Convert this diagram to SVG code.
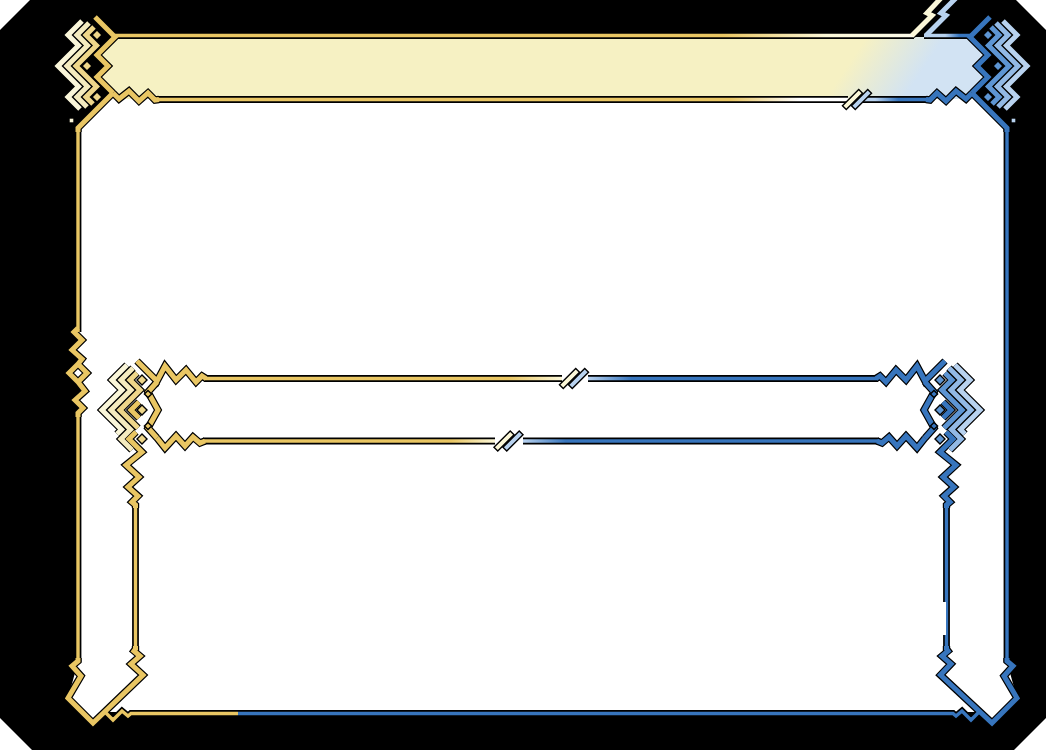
<svg xmlns="http://www.w3.org/2000/svg" width="1046" height="750" viewBox="0 0 1046 750">
<style>
.ko{fill:none;stroke:#000;stroke-width:7.4;stroke-linejoin:miter;stroke-miterlimit:8}
.kl{fill:none;stroke:#000;stroke-width:6.8;stroke-linejoin:miter;stroke-miterlimit:8}
.co{fill:none;stroke-width:5;stroke-linejoin:miter;stroke-miterlimit:8}
.cl{fill:none;stroke-width:3.4;stroke-linejoin:miter;stroke-miterlimit:8}
.g1{stroke:#E9C663}.g2{stroke:#EED68A}.g3{stroke:#F4EBBF}.g4{stroke:#FAF6D9}
.b1{stroke:#3775BD}.b2{stroke:#5D95D3}.b3{stroke:#92B9E5}.b4{stroke:#B8D2EF}
.py{stroke:#FBF7D8}.pb{stroke:#B8D2EF}
.dm{stroke:#000;stroke-width:1.4}
.fg1{fill:#E9C663}.fg2{fill:#EED68A}.fg4{fill:#FAF6D9}
.fb1{fill:#3775BD}.fb2{fill:#5D95D3}.fb4{fill:#B8D2EF}
.fy{fill:#FBF7D8}.fpb{fill:#B8D2EF}
</style>
<defs>
<linearGradient id="gTL" gradientUnits="userSpaceOnUse" x1="115" y1="0" x2="914" y2="0"><stop offset="0" stop-color="#E9C663"/><stop offset="0.76" stop-color="#E9C663"/><stop offset="0.89" stop-color="#FBF7D8"/><stop offset="1" stop-color="#FDFBEA"/></linearGradient>
<linearGradient id="gTR" gradientUnits="userSpaceOnUse" x1="924" y1="0" x2="971" y2="0"><stop offset="0" stop-color="#B8D2EF"/><stop offset="0.45" stop-color="#B8D2EF"/><stop offset="0.75" stop-color="#3775BD"/></linearGradient>
<linearGradient id="gBL" gradientUnits="userSpaceOnUse" x1="157" y1="0" x2="848" y2="0"><stop offset="0" stop-color="#E9C663"/><stop offset="0.83" stop-color="#E9C663"/><stop offset="0.93" stop-color="#FFFFFF"/><stop offset="1" stop-color="#FFFFFF"/></linearGradient>
<linearGradient id="gBR" gradientUnits="userSpaceOnUse" x1="862" y1="0" x2="928" y2="0"><stop offset="0" stop-color="#B8D2EF"/><stop offset="0.2" stop-color="#B8D2EF"/><stop offset="0.55" stop-color="#3775BD"/></linearGradient>
<linearGradient id="gITL" gradientUnits="userSpaceOnUse" x1="204" y1="0" x2="562" y2="0"><stop offset="0" stop-color="#E9C663"/><stop offset="0.85" stop-color="#E9C663"/><stop offset="1" stop-color="#FBF7D8"/></linearGradient>
<linearGradient id="gITR" gradientUnits="userSpaceOnUse" x1="588" y1="0" x2="878" y2="0"><stop offset="0" stop-color="#B8D2EF"/><stop offset="0.15" stop-color="#3775BD"/></linearGradient>
<linearGradient id="gIBL" gradientUnits="userSpaceOnUse" x1="203" y1="0" x2="495" y2="0"><stop offset="0" stop-color="#E9C663"/><stop offset="0.85" stop-color="#E9C663"/><stop offset="1" stop-color="#FBF7D8"/></linearGradient>
<linearGradient id="gIBR" gradientUnits="userSpaceOnUse" x1="523" y1="0" x2="879" y2="0"><stop offset="0" stop-color="#B8D2EF"/><stop offset="0.12" stop-color="#3775BD"/></linearGradient>
<linearGradient id="gBot" gradientUnits="userSpaceOnUse" x1="0" y1="0" x2="1046" y2="0"><stop offset="0.2275" stop-color="#E9C663"/><stop offset="0.2275" stop-color="#3775BD"/></linearGradient>
<linearGradient id="gBan" gradientUnits="userSpaceOnUse" x1="858" y1="50" x2="912" y2="86"><stop offset="0" stop-color="#F6F1C3"/><stop offset="1" stop-color="#D2E3F3"/></linearGradient>

<path id="spineL" d="M95,17 L115,37 L97,55 L108,66 L97,77 L113,93"/>
<path id="diagL" d="M113,93 L78,128 L78,132"/>
<path id="vL1" d="M78,128 V332"/>
<path id="zzL" d="M78,328 L74,332 L82,340 L72,350 L82,359 L78,364 M78,364 L87,373 L78,382 L69,373 Z M78,382 L85,391 L75,400 L83,408 L78,413 L78,417"/>
<path id="vL2" d="M78,413 V662"/>
<path id="VL" d="M78,658 L78,661 L72,666 L81,676 L68,698 L93,723 L143,675 L131,664 L140,656 L134,651 L135.5,649 L135.5,646"/>
<path id="VR" d="M1007,658 L1007,661 L1013,666 L1004,676 L1017,698 L992,723 L940.5,675 L951,664 L942,656 L948,651 L946.5,649 L946.5,646"/>
<path id="vR" d="M1007,128 V662"/>
<path id="viL" d="M135.5,650 V505"/>
<path id="viR" d="M946.5,650 V505"/>
<path id="izzL" d="M135.5,508 L135.5,505 L132,502 L138,496 L128,487 L139,477 L126,465 L142,452 L129,439 L136,432"/>
<path id="oc2" d="M94,27 L86,35 L96.5,45.5 L76,66 L96.5,86.5 L86,97 L93,104"/>
<path id="oc3" d="M89,23 L77,35 L87.5,45.5 L67,66 L87.5,86.5 L77,97 L87,107"/>
<path id="oc4" d="M82,21 L68,35 L78.5,45.5 L58,66 L78.5,86.5 L68,97 L80,109"/>
<path id="ic1" d="M139,402 L131,410 L139,418"/>
<path id="ic2" d="M137,373 L130,380 L140,390 L120,410 L138,428"/>
<path id="ic3" d="M133,368 L121,380 L131,390 L111,410 L130.5,429.5 L121,439 L132,450"/>
<path id="ic4" d="M127,365 L112,380 L122,390 L102,410 L121.5,429.5 L117,434"/>
<path id="isp" d="M157,382 L148,392 L158,410 L148,428 L157,438"/>
<path id="itz" d="M137,361 L157,381 L165,366 L176,380 L186,370 L196,382 L202,376 L206,378.5"/>
<path id="ibz" d="M157,438 L165,448 L176,436 L185,446 L193,437 L200,443 L205,441"/>
<path id="itlL" d="M204,378.5 H562"/>
<path id="itlR" d="M588,378.5 H878"/>
<path id="iblL" d="M203,441 H495"/>
<path id="iblR" d="M523,441 H879"/>
<path id="topL" d="M115,35.5 H914"/>
<path id="boltY" d="M912,35.5 L932,15.5 L927,13 L942,-3"/>
<path id="boltB" d="M957,-3 L941,13 L946,15.5 L926,35.5"/>
<path id="topR" d="M924,35.5 H971"/>
<path id="bzL" d="M113,93 L119,99 L129,91 L139,101 L148,93 L155,100 L159,99.5"/>
<path id="botL" d="M157,99.5 H848"/>
<path id="botR" d="M862,99.5 H928"/>
<path id="bottom" d="M105,712 L113,720 L122,711 L128,716 L131,713.5 H953 L956,716 L962,711 L971,720 L979,712"/>
<path id="dmd" d="M0,-5 L5,0 L0,5 L-5,0 Z"/>
<path id="dms" d="M0,-3.6 L3.6,0 L0,3.6 L-3.6,0 Z"/>
<rect id="bar" x="-2.7" y="-11.5" width="5.4" height="23"/>
</defs>

<g id="background">
<rect width="1046" height="750" fill="#000"/>
<path fill="#fff" d="M0,0 H30 L0,30 Z M1016,0 H1046 V30 Z M0,718 L32,750 H0 Z M1046,718 V750 H1014 Z"/>
<path fill="#fff" d="M78,128 L113,93 L972,93 L1007,128 L1007,662 L1017,698 L992,723 L979,712 L105,712 L93,723 L68,698 L78,662 L78,413 L83,408 L75,400 L85,391 L78,382 L69,373 L78,364 L82,359 L72,350 L82,340 L74,332 L78,328 Z"/>
<path id="banner-fill" fill="url(#gBan)" d="M115,37 L970,37 L988,55 L977,66 L988,77 L972,93 L966,99 L119,99 L113,93 L97,77 L108,66 L97,55 Z"/>
</g>

<g id="outlines">
<use href="#vL1" class="kl"/><use href="#vL2" class="kl"/><use href="#vR" class="kl"/>
<use href="#viL" class="kl"/><use href="#viR" class="kl"/>
<use href="#itlL" class="kl"/><use href="#itlR" class="kl"/><use href="#iblL" class="kl"/><use href="#iblR" class="kl"/>
<use href="#topL" class="kl"/><use href="#topR" class="kl"/><use href="#botL" class="kl"/><use href="#botR" class="kl"/>
<use href="#bottom" class="kl"/>
<use href="#spineL" class="ko"/><use href="#spineL" class="ko" transform="matrix(-1 0 0 1 1085 0)"/>
<use href="#diagL" class="ko"/><use href="#diagL" class="ko" transform="matrix(-1 0 0 1 1085 0)"/>
<use href="#zzL" class="ko"/><use href="#VL" class="ko"/><use href="#VR" class="ko"/>
<use href="#izzL" class="ko"/><use href="#izzL" class="ko" transform="matrix(-1 0 0 1 1082 0)"/>
<use href="#oc2" class="ko"/><use href="#oc3" class="ko"/><use href="#oc4" class="ko"/>
<g transform="matrix(-1 0 0 1 1085 0)"><use href="#oc2" class="ko"/><use href="#oc3" class="ko"/><use href="#oc4" class="ko"/></g>
<use href="#ic1" class="ko"/><use href="#ic2" class="ko"/><use href="#ic3" class="ko"/><use href="#ic4" class="ko"/><use href="#isp" class="ko"/><use href="#itz" class="ko"/><use href="#ibz" class="ko"/>
<g transform="matrix(-1 0 0 1 1082 0)"><use href="#ic1" class="ko"/><use href="#ic2" class="ko"/><use href="#ic3" class="ko"/><use href="#ic4" class="ko"/><use href="#isp" class="ko"/><use href="#itz" class="ko"/><use href="#ibz" class="ko"/></g>
<use href="#boltY" class="ko"/><use href="#boltB" class="ko"/>
<use href="#bzL" class="ko"/><use href="#bzL" class="ko" transform="matrix(-1 0 0 1 1085 0)"/>
</g>

<g id="strokes">
<use href="#vL1" class="cl g1"/><use href="#vL2" class="cl g1"/><use href="#vR" class="cl b1"/>
<use href="#viL" class="cl g1"/><use href="#viR" class="cl b1"/>
<use href="#itlL" class="cl" style="stroke:url(#gITL)"/><use href="#itlR" class="cl" style="stroke:url(#gITR)"/>
<use href="#iblL" class="cl" style="stroke:url(#gIBL)"/><use href="#iblR" class="cl" style="stroke:url(#gIBR)"/>
<use href="#topL" class="cl" style="stroke:url(#gTL)"/><use href="#topR" class="cl" style="stroke:url(#gTR)"/>
<use href="#botL" class="cl" style="stroke:url(#gBL)"/><use href="#botR" class="cl" style="stroke:url(#gBR)"/>
<use href="#bottom" class="cl" style="stroke:url(#gBot)"/>
<use href="#spineL" class="co g1"/><use href="#spineL" class="co b1" transform="matrix(-1 0 0 1 1085 0)"/>
<use href="#diagL" class="co g1"/><use href="#diagL" class="co b1" transform="matrix(-1 0 0 1 1085 0)"/>
<use href="#zzL" class="co g1"/><use href="#VL" class="co g1"/><use href="#VR" class="co b1"/>
<use href="#izzL" class="co g1"/><use href="#izzL" class="co b1" transform="matrix(-1 0 0 1 1082 0)"/>
<use href="#oc2" class="co g2"/><use href="#oc3" class="co g3"/><use href="#oc4" class="co g4"/>
<g transform="matrix(-1 0 0 1 1085 0)"><use href="#oc2" class="co b2"/><use href="#oc3" class="co b3"/><use href="#oc4" class="co b4"/></g>
<use href="#ic1" class="co g1"/><use href="#ic2" class="co g2"/><use href="#ic3" class="co g3"/><use href="#ic4" class="co g4"/><use href="#isp" class="co g1"/><use href="#itz" class="co g1"/><use href="#ibz" class="co g1"/>
<g transform="matrix(-1 0 0 1 1082 0)"><use href="#ic1" class="co b1"/><use href="#ic2" class="co b2"/><use href="#ic3" class="co b3"/><use href="#ic4" class="co b4"/><use href="#isp" class="co b1"/><use href="#itz" class="co b1"/><use href="#ibz" class="co b1"/></g>
<use href="#boltY" class="co py"/><use href="#boltB" class="co pb"/>
<use href="#bzL" class="co g1"/><use href="#bzL" class="co b1" transform="matrix(-1 0 0 1 1085 0)"/>
</g>

<g id="diamonds">
<use href="#dmd" x="97" y="35" class="dm fg2"/><use href="#dmd" x="87" y="66" class="dm fg2"/><use href="#dmd" x="97" y="97" class="dm fg2"/>
<use href="#dmd" x="988" y="35" class="dm fb2"/><use href="#dmd" x="998" y="66" class="dm fb2"/><use href="#dmd" x="988" y="97" class="dm fb2"/>
<use href="#dmd" x="142" y="380" class="dm fg2"/><use href="#dmd" x="142" y="410" class="dm fg2"/><use href="#dmd" x="142" y="439" class="dm fg2"/>
<use href="#dms" x="148" y="394" class="dm fg1"/><use href="#dms" x="148" y="426" class="dm fg1"/>
<use href="#dmd" x="940" y="380" class="dm fb2"/><use href="#dmd" x="940" y="410" class="dm fb2"/><use href="#dmd" x="940" y="439" class="dm fb2"/>
<use href="#dms" x="934" y="394" class="dm fb1"/><use href="#dms" x="934" y="426" class="dm fb1"/>
<rect x="69" y="118" width="5" height="5" class="dm fg4"/>
<rect x="1011" y="118" width="5" height="5" class="dm fb4"/>
</g>

<g id="breaks">
<use href="#bar" class="dm fy" transform="translate(852.5 99.5) rotate(45)"/>
<use href="#bar" class="dm fpb" transform="translate(861.5 99.5) rotate(45)"/>
<use href="#bar" class="dm fy" transform="translate(569.5 378.5) rotate(45)"/>
<use href="#bar" class="dm fpb" transform="translate(578.5 378.5) rotate(45)"/>
<use href="#bar" class="dm fy" transform="translate(504 441) rotate(45)"/>
<use href="#bar" class="dm fpb" transform="translate(513 441) rotate(45)"/>
</g>

<rect id="notch" x="941" y="602" width="5" height="33" fill="#fff"/>
</svg>
